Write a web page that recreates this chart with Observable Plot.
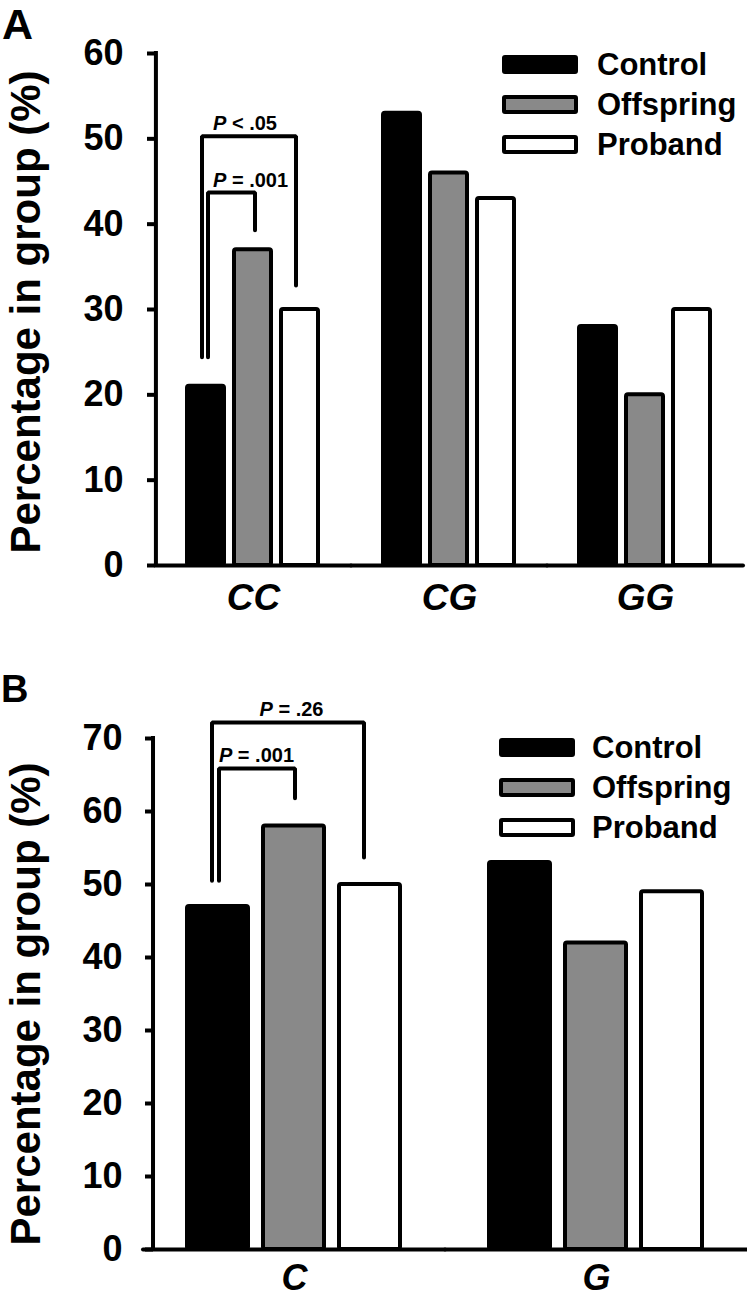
<!DOCTYPE html>
<html>
<head>
<meta charset="utf-8">
<script src="https://cdn.jsdelivr.net/npm/d3@7"></script>
<script src="https://cdn.jsdelivr.net/npm/@observablehq/plot@0.6"></script>
<style>
  html,body{margin:0;padding:0;background:#fff;}
  #root{position:relative;width:747px;height:1298px;overflow:hidden;background:#fff;
    font-family:"Liberation Sans",Arial,Helvetica,sans-serif;font-weight:bold;color:#000;}
  .svgwrap{position:absolute;left:0;}
  .letter{position:absolute;line-height:1;white-space:nowrap;}
  .ylabel{position:absolute;font-size:42px;line-height:1;white-space:nowrap;transform:translate(-50%,-50%) rotate(-90deg);}
  .legend{position:absolute;font-size:31px;}
  .legend .row{display:flex;align-items:center;height:40px;}
  .legend .sw{box-sizing:border-box;width:76px;height:19px;border:4px solid #000;border-radius:3px;}
  .legend .lab{line-height:1;white-space:nowrap;}
</style>
</head>
<body>
<div id="root"></div>
<script>
// ---------- data ----------
const groups = ["Control", "Offspring", "Proband"];
const groupColors = ["#000000", "#898989", "#ffffff"];
const yLabel = "Percentage in group (%)";

// Panel A: genotypes
const genotypes = ["CC", "CG", "GG"];
const controlA = [21, 53, 28];
const offspringA = [37, 46, 20];
const probandA = [30, 43, 30];
const yTicksA = [0, 10, 20, 30, 40, 50, 60];
const sigLabelsA = ["P < .05", "P = .001"];
const sigFromA = ["Control", "Control"];
const sigToA = ["Proband", "Offspring"];
const sigTopA = [50.3, 43.7];
const sigFromEndA = [24.4, 24.4];
const sigToEndA = [32.8, 39.3];

// Panel B: alleles
const alleles = ["C", "G"];
const controlB = [47, 53];
const offspringB = [58, 42];
const probandB = [50, 49];
const yTicksB = [0, 10, 20, 30, 40, 50, 60, 70];
const sigLabelsB = ["P = .26", "P = .001"];
const sigFromB = ["Control", "Control"];
const sigToB = ["Proband", "Offspring"];
const sigTopB = [72.2, 65.9];
const sigFromEndB = [50.5, 50.5];
const sigToEndB = [53.7, 61.8];

// ---------- layout (styles, not data) ----------
const layoutA = {top: 0, height: 640, ml: 155, mr: 4, mt: 53, mb: 75, pi: 0.21, po: 0.65,
  tickPadding: 24, axisDx: 0, fxPad: 18, fxFont: 37, bracketDx: [-4, 2], textAnchor: "start", textDx: [7, 7]};
const layoutB = {top: 650, height: 648, ml: 143, mr: 0, mt: 88, mb: 49, pi: 0.197, po: 0.585,
  tickPadding: 23, axisDx: 10, fxPad: 15, fxFont: 36, bracketDx: [-6, 1], textAnchor: "middle", textDx: [73.5, 38.5]};

function makePanel(cats, series, ticks, sig, L) {
  const data = cats.flatMap((c, i) => groups.map((g, j) => ({cat: c, group: g, value: series[j][i]})));
  const yMax = ticks[ticks.length - 1];
  // offset from the first band's centre back to the facet's left edge (derived from layout)
  const facetWidth = (747 - L.ml - L.mr) / cats.length;
  const step = facetWidth / (groups.length - L.pi + 2 * L.po);
  const firstCenter = L.po * step + step * (1 - L.pi) / 2;
  const marks = [
    Plot.barY(data, {fx: "cat", x: "group", y: "value", fill: "group", stroke: "black",
      strokeWidth: 4, strokeLinejoin: "round", rx: 2}),
    Plot.ruleY([0], {stroke: "black", strokeWidth: 4, strokeLinecap: "round"}),
    // y-axis line, drawn in the first facet at the frame's left edge
    Plot.ruleX([{cat: cats[0], g: groups[0], y1: 0, y2: yMax}], {fx: "cat", x: "g", y1: "y1", y2: "y2",
      stroke: "black", strokeWidth: 4, strokeLinecap: "square", dx: -firstCenter + L.axisDx}),
    Plot.axisY(ticks, {tickSize: 8, tickPadding: L.tickPadding, stroke: "black", strokeWidth: 4, fontSize: 36,
      fontWeight: "bold", label: null, dx: L.axisDx, tickFormat: d => String(d)}),
    Plot.axisFx({anchor: "bottom", tickSize: 0, tickPadding: L.fxPad, fontSize: L.fxFont,
      fontWeight: "bold", fontStyle: "italic", label: null})
  ];
  sig.labels.forEach((lab, k) => {
    const pts = [
      {cat: cats[0], x: sig.from[k], y: sig.fromEnd[k]},
      {cat: cats[0], x: sig.from[k], y: sig.top[k]},
      {cat: cats[0], x: sig.to[k], y: sig.top[k]},
      {cat: cats[0], x: sig.to[k], y: sig.toEnd[k]}
    ];
    marks.push(Plot.line(pts, {fx: "cat", x: "x", y: "y", stroke: "black", strokeWidth: 4,
      strokeLinejoin: "miter", strokeLinecap: "round", dx: L.bracketDx[k]}));
    marks.push(Plot.text([{cat: cats[0], x: sig.from[k], y: sig.top[k], lab}],
      {fx: "cat", x: "x", y: "y", text: "lab", textAnchor: L.textAnchor, lineAnchor: "bottom",
       dx: L.textDx[k], dy: -6, fontSize: 20, fontWeight: "bold", fill: "black"}));
  });
  const svg = Plot.plot({
    width: 747, height: L.height,
    marginLeft: L.ml, marginRight: L.mr, marginTop: L.mt, marginBottom: L.mb,
    style: {fontFamily: "'Liberation Sans', Arial, sans-serif", fontWeight: "bold", background: "transparent", overflow: "visible", color: "black"},
    fx: {domain: cats, padding: 0, label: null},
    x: {domain: groups, paddingInner: L.pi, paddingOuter: L.po, axis: null},
    y: {domain: [0, yMax], label: null},
    color: {domain: groups, range: groupColors},
    marks
  });
  // italic P in significance labels
  svg.querySelectorAll("text").forEach(t => {
    const s = t.textContent;
    if (/^P\s/.test(s) && t.children.length === 0) {
      t.textContent = "";
      const ts = document.createElementNS("http://www.w3.org/2000/svg", "tspan");
      ts.setAttribute("font-style", "italic");
      ts.textContent = "P";
      t.appendChild(ts);
      t.appendChild(document.createTextNode(s.slice(1)));
    }
  });
  return svg;
}

const root = document.getElementById("root");

function place(svg, L) {
  const w = document.createElement("div");
  w.className = "svgwrap";
  w.style.top = L.top + "px";
  w.appendChild(svg);
  root.appendChild(w);
}

place(makePanel(genotypes, [controlA, offspringA, probandA], yTicksA,
  {labels: sigLabelsA, from: sigFromA, to: sigToA, top: sigTopA, fromEnd: sigFromEndA, toEnd: sigToEndA}, layoutA), layoutA);
place(makePanel(alleles, [controlB, offspringB, probandB], yTicksB,
  {labels: sigLabelsB, from: sigFromB, to: sigToB, top: sigTopB, fromEnd: sigFromEndB, toEnd: sigToEndB}, layoutB), layoutB);

// overlay text: panel letters, y labels, legends
function addDiv(cls, text, css) {
  const d = document.createElement("div");
  d.className = cls;
  if (text != null) d.textContent = text;
  Object.assign(d.style, css);
  root.appendChild(d);
  return d;
}
addDiv("letter", "A", {left: "2px", top: "3px", fontSize: "43px"});
addDiv("letter", "B", {left: "1px", top: "670px", fontSize: "38px"});
addDiv("ylabel", yLabel, {left: "25.5px", top: "311.5px"});
addDiv("ylabel", yLabel, {left: "25.5px", top: "1003.5px"});

function legend(left, top, gap) {
  const lg = addDiv("legend", null, {left: left + "px", top: top + "px"});
  groups.forEach((g, i) => {
    const row = document.createElement("div");
    row.className = "row";
    const sw = document.createElement("div");
    sw.className = "sw";
    sw.style.background = groupColors[i];
    const lab = document.createElement("div");
    lab.className = "lab";
    lab.style.marginLeft = gap + "px";
    lab.textContent = g;
    row.appendChild(sw); row.appendChild(lab);
    lg.appendChild(row);
  });
}
legend(502, 44, 19);
legend(499, 727.5, 17);
</script>
</body>
</html>
